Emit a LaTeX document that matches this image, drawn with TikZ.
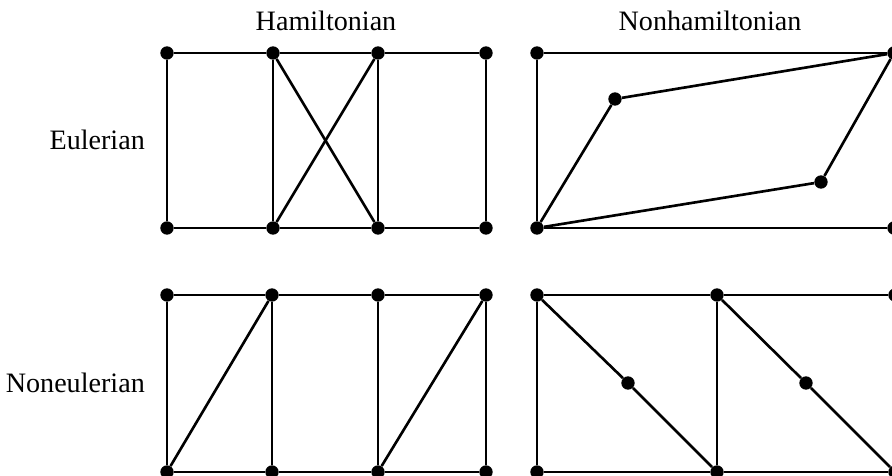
\documentclass[tikz,border=0pt]{standalone}
\usepackage{fontspec}
\setmainfont{Liberation Serif}
\begin{document}
\begin{tikzpicture}[x=0.02cm,y=-0.02cm,
    vtx/.style={circle,fill=black,inner sep=0pt,minimum size=7.6pt},
    edge/.style={line width=1.5pt},
    lbl/.style={font=\fontsize{16}{19}\selectfont}]

            \useasboundingbox (0,0) rectangle (892,476);

            % column and row labels
            \node[lbl] (hamlbl) at (326,21) {Hamiltonian};
            \node[lbl] (nonhamlbl) at (710,21) {Nonhamiltonian};
            \node[lbl,anchor=east] (eullbl) at (151,140) {Eulerian};
            \node[lbl,anchor=east] (noneullbl) at (151,383) {Noneulerian};

            % Hamiltonian and Eulerian
            \node[vtx] (a1) at (167,53) {};
            \node[vtx] (a2) at (273,53) {};
            \node[vtx] (a3) at (378,53) {};
            \node[vtx] (a4) at (486,53) {};
            \node[vtx] (b1) at (167,228) {};
            \node[vtx] (b2) at (273,228) {};
            \node[vtx] (b3) at (378,228) {};
            \node[vtx] (b4) at (486,228) {};
            \draw[edge] (a1) -- (a2) -- (a3) -- (a4);
            \draw[edge] (b1) -- (b2) -- (b3) -- (b4);
            \draw[edge] (a1) -- (b1);
            \draw[edge] (a2) -- (b2);
            \draw[edge] (a3) -- (b3);
            \draw[edge] (a4) -- (b4);
            \draw[edge] (a2) -- (b3);
            \draw[edge] (a3) -- (b2);

            % Nonhamiltonian and Eulerian
            \node[vtx] (c1) at (537,53) {};
            \node[vtx] (c2) at (894,53) {};
            \node[vtx] (d1) at (537,228) {};
            \node[vtx] (d2) at (894,228) {};
            \node[vtx] (p1) at (615,99) {};
            \node[vtx] (q1) at (821,182) {};
            \draw[edge] (c1) -- (c2) -- (d2) -- (d1) -- (c1);
            \draw[edge] (d1) -- (p1) -- (c2);
            \draw[edge] (c2) -- (q1) -- (d1);

            % Hamiltonian and noneulerian
            \node[vtx] (e1) at (167,295) {};
            \node[vtx] (e2) at (272,295) {};
            \node[vtx] (e3) at (378,295) {};
            \node[vtx] (e4) at (486,295) {};
            \node[vtx] (f1) at (167,472) {};
            \node[vtx] (f2) at (272,472) {};
            \node[vtx] (f3) at (378,472) {};
            \node[vtx] (f4) at (486,472) {};
            \draw[edge] (e1) -- (e2) -- (e3) -- (e4);
            \draw[edge] (f1) -- (f2) -- (f3) -- (f4);
            \draw[edge] (e1) -- (f1);
            \draw[edge] (e2) -- (f2);
            \draw[edge] (e3) -- (f3);
            \draw[edge] (e4) -- (f4);
            \draw[edge] (f1) -- (e2);
            \draw[edge] (f3) -- (e4);

            % Nonhamiltonian and noneulerian
            \node[vtx] (g1) at (537,295) {};
            \node[vtx] (g2) at (717,295) {};
            \node[vtx] (g3) at (895,295) {};
            \node[vtx] (h1) at (537,472) {};
            \node[vtx] (h2) at (717,472) {};
            \node[vtx] (h3) at (895,472) {};
            \node[vtx] (m1) at (628,383) {};
            \node[vtx] (m2) at (806,383) {};
            \draw[edge] (g1) -- (g2) -- (g3);
            \draw[edge] (h1) -- (h2) -- (h3);
            \draw[edge] (g1) -- (h1);
            \draw[edge] (g2) -- (h2);
            \draw[edge] (g3) -- (h3);
            \draw[edge] (g1) -- (m1) -- (h2);
            \draw[edge] (g2) -- (m2) -- (h3);

        \end{tikzpicture}
\end{document}
